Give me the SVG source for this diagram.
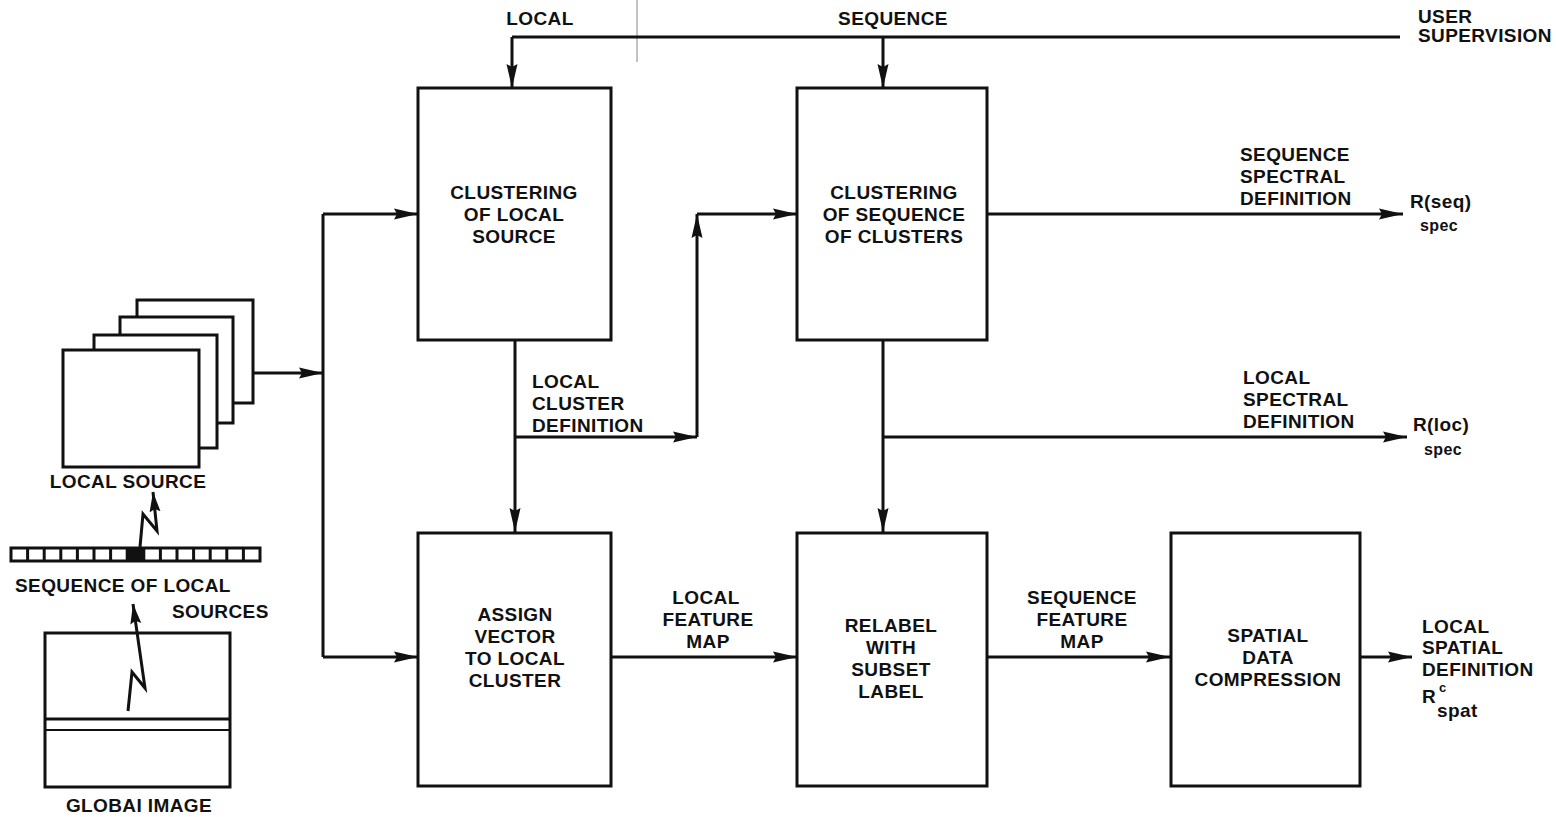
<svg xmlns="http://www.w3.org/2000/svg" width="1556" height="817" viewBox="0 0 1556 817">
  <defs>
    <marker id="arr" viewBox="0 0 24 12" refX="24" refY="6" markerWidth="24" markerHeight="12" markerUnits="userSpaceOnUse" orient="auto">
      <path d="M0,0.5 L24,6 L0,11.5 L3,6 z" fill="#111"/>
    </marker>
    <marker id="arrs" viewBox="0 0 20 12" refX="20" refY="6" markerWidth="20" markerHeight="12" markerUnits="userSpaceOnUse" orient="auto">
      <path d="M0,0.5 L20,6 L0,11.5 L3,6 z" fill="#111"/>
    </marker>
  </defs>
  <style>
    .bx { fill: #fff; stroke: #111; stroke-width: 3; }
    .ln { fill: none; stroke: #111; stroke-width: 3; }
    .ar { fill: none; stroke: #111; stroke-width: 3; marker-end: url(#arr); }
    .zz { fill: none; stroke: #111; stroke-width: 3; stroke-linejoin: miter; marker-end: url(#arrs); }
    .t { font-family: "Liberation Sans", Arial, sans-serif; font-weight: bold; font-size: 19px; fill: #111; letter-spacing: 0.4px; }
    .c { text-anchor: middle; }
    .s { font-size: 13px; }
    .sub { font-size: 16px; }
  </style>
  <rect width="1556" height="817" fill="#fff"/>

  <!-- faint vertical mark near the top -->
  <line x1="637" y1="0" x2="637" y2="62" stroke="#999" stroke-width="1.2"/>

  <!-- connectors -->
  <g id="connectors">
    <path class="ln" d="M1400,37 H512"/>
    <path class="ar" d="M512,37 V88"/>
    <path class="ar" d="M883,37 V88"/>
    <path class="ar" d="M253,373 H323"/>
    <path class="ln" d="M323,214 V657"/>
    <path class="ar" d="M323,214 H418"/>
    <path class="ar" d="M323,657 H418"/>
    <path class="ar" d="M515,340 V532"/>
    <path class="ar" d="M515,437 H697"/>
    <path class="ar" d="M697,437 V214"/>
    <path class="ar" d="M697,214 H797"/>
    <path class="ar" d="M987,214 H1403"/>
    <path class="ar" d="M883,340 V532"/>
    <path class="ar" d="M883,437 H1407"/>
    <path class="ar" d="M611,657 H797"/>
    <path class="ar" d="M987,657 H1170"/>
    <path class="ar" d="M1360,657 H1412"/>
  </g>

  <!-- process boxes -->
  <g id="cluster-local">
    <rect class="bx" x="418" y="88" width="193" height="252"/>
    <text class="t c" x="514" y="199">CLUSTERING</text>
    <text class="t c" x="514" y="221">OF LOCAL</text>
    <text class="t c" x="514" y="243">SOURCE</text>
  </g>
  <g id="cluster-sequence">
    <rect class="bx" x="797" y="88" width="190" height="252"/>
    <text class="t c" x="894" y="199">CLUSTERING</text>
    <text class="t c" x="894" y="221">OF SEQUENCE</text>
    <text class="t c" x="894" y="243">OF CLUSTERS</text>
  </g>
  <g id="assign-vector">
    <rect class="bx" x="418" y="533" width="193" height="253"/>
    <text class="t c" x="515" y="621">ASSIGN</text>
    <text class="t c" x="515" y="643">VECTOR</text>
    <text class="t c" x="515" y="665">TO LOCAL</text>
    <text class="t c" x="515" y="687">CLUSTER</text>
  </g>
  <g id="relabel">
    <rect class="bx" x="797" y="533" width="190" height="253"/>
    <text class="t c" x="891" y="632">RELABEL</text>
    <text class="t c" x="891" y="654">WITH</text>
    <text class="t c" x="891" y="676">SUBSET</text>
    <text class="t c" x="891" y="698">LABEL</text>
  </g>
  <g id="spatial-compression">
    <rect class="bx" x="1171" y="533" width="189" height="253"/>
    <text class="t c" x="1268" y="642">SPATIAL</text>
    <text class="t c" x="1268" y="664">DATA</text>
    <text class="t c" x="1268" y="686">COMPRESSION</text>
  </g>

  <!-- stack of local source frames -->
  <g id="local-source">
    <rect class="bx" x="137" y="300" width="116" height="103"/>
    <rect class="bx" x="120" y="317" width="113" height="106"/>
    <rect class="bx" x="94" y="335" width="123" height="113"/>
    <rect class="bx" x="63" y="350" width="136" height="117"/>
    <text class="t c" x="128" y="488">LOCAL  SOURCE</text>
  </g>

  <!-- sequence strip -->
  <g id="sequence-strip">
    <rect x="11" y="548" width="249" height="13" fill="#fff" stroke="#111" stroke-width="3"/>
    <path class="ln" stroke-width="2" d="M27.6,548 V561 M44.2,548 V561 M60.8,548 V561 M77.4,548 V561 M94,548 V561 M110.6,548 V561 M127.2,548 V561 M143.8,548 V561 M160.4,548 V561 M177,548 V561 M193.6,548 V561 M210.2,548 V561 M226.8,548 V561 M243.4,548 V561"/>
    <rect x="127.2" y="548" width="16.6" height="13" fill="#111"/>
    <path class="zz" d="M140,547 L143,514 L157,531 L153,492"/>
    <text class="t" x="15" y="592">SEQUENCE OF LOCAL</text>
    <text class="t" x="172" y="618">SOURCES</text>
  </g>

  <!-- global image -->
  <g id="global-image">
    <rect class="bx" x="45" y="633" width="185" height="154"/>
    <line x1="45" y1="719" x2="230" y2="719" stroke="#111" stroke-width="3"/>
    <line x1="45" y1="730" x2="230" y2="730" stroke="#111" stroke-width="2"/>
    <path class="zz" d="M128,711 L132,672 L145,688 L133,604"/>
    <text class="t c" x="139" y="812">GLOBAI IMAGE</text>
  </g>

  <!-- connector labels -->
  <g id="labels">
    <text class="t c" x="540" y="25">LOCAL</text>
    <text class="t c" x="893" y="25">SEQUENCE</text>
    <text class="t" x="1418" y="23">USER</text>
    <text class="t" x="1418" y="42">SUPERVISION</text>

    <text class="t" x="532" y="388">LOCAL</text>
    <text class="t" x="532" y="410">CLUSTER</text>
    <text class="t" x="532" y="432">DEFINITION</text>

    <text class="t" x="1240" y="161">SEQUENCE</text>
    <text class="t" x="1240" y="183">SPECTRAL</text>
    <text class="t" x="1240" y="205">DEFINITION</text>
    <text class="t" x="1410" y="208">R(seq)</text>
    <text class="t sub" x="1420" y="231">spec</text>

    <text class="t" x="1243" y="384">LOCAL</text>
    <text class="t" x="1243" y="406">SPECTRAL</text>
    <text class="t" x="1243" y="428">DEFINITION</text>
    <text class="t" x="1413" y="431">R(loc)</text>
    <text class="t sub" x="1424" y="455">spec</text>

    <text class="t c" x="706" y="604">LOCAL</text>
    <text class="t c" x="708" y="626">FEATURE</text>
    <text class="t c" x="708" y="648">MAP</text>

    <text class="t c" x="1082" y="604">SEQUENCE</text>
    <text class="t c" x="1082" y="626">FEATURE</text>
    <text class="t c" x="1082" y="648">MAP</text>

    <text class="t" x="1422" y="633">LOCAL</text>
    <text class="t" x="1422" y="654">SPATIAL</text>
    <text class="t" x="1422" y="676">DEFINITION</text>
    <text class="t" x="1422" y="703">R</text>
    <text class="t s" x="1439" y="692">c</text>
    <text class="t" x="1437" y="717" font-size="15">spat</text>
  </g>
</svg>
